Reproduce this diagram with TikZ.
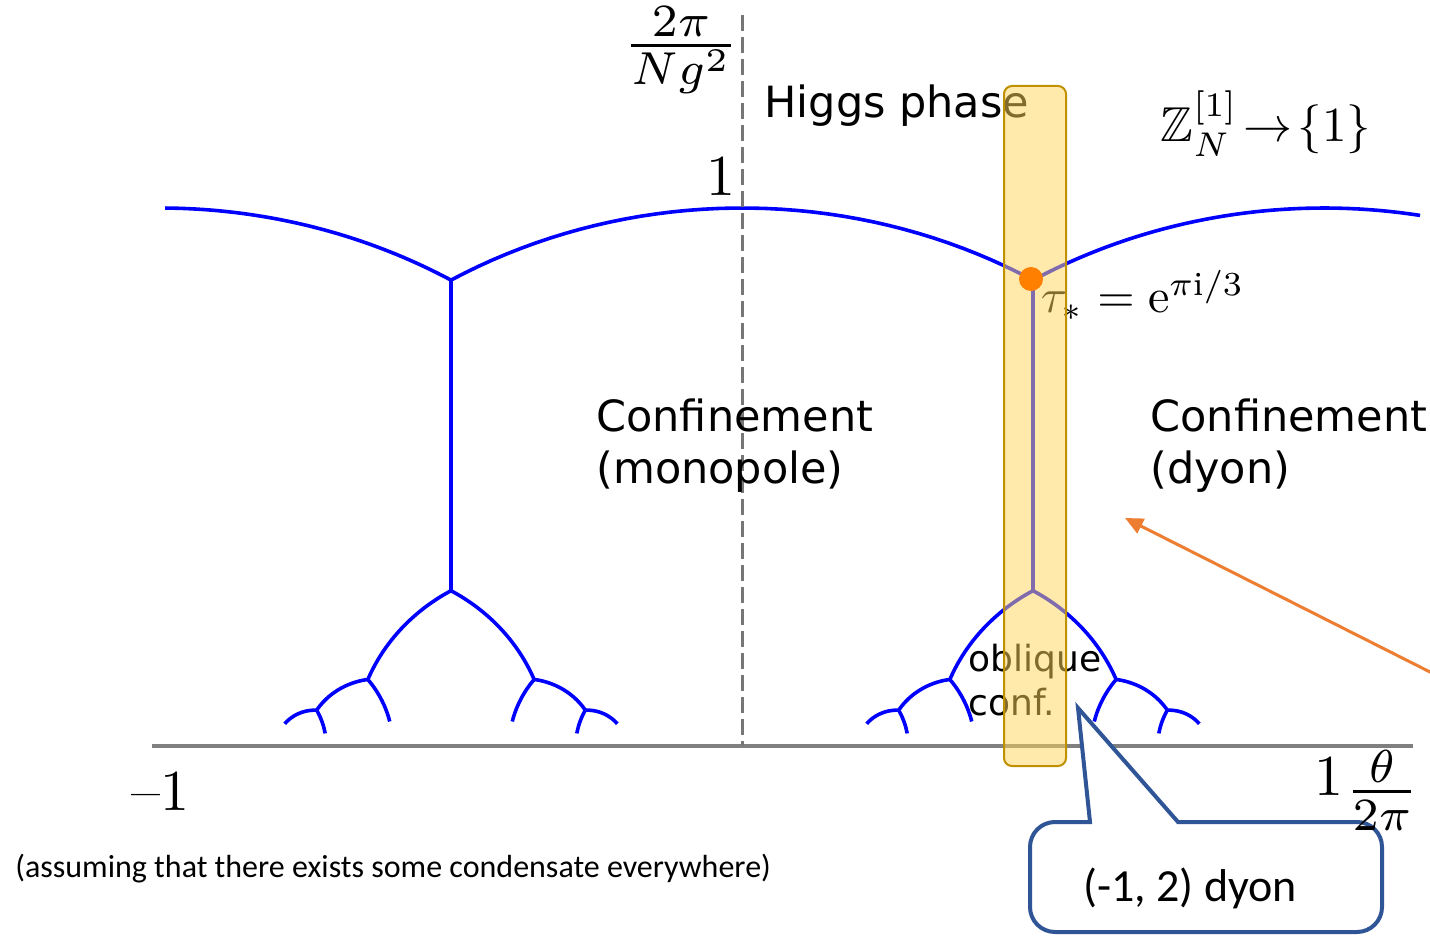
\documentclass[tikz,border=0pt]{standalone}
\usepackage{amsmath,amssymb}
\usepackage{fontspec}
\newfontfamily\dejavu{DejaVu Sans}
\newfontfamily\carlito{Carlito}
\usetikzlibrary{arrows.meta}
\definecolor{treeblue}{RGB}{0,0,255}
\definecolor{axisgray}{RGB}{128,128,128}
\definecolor{dashgray}{RGB}{118,118,118}
\definecolor{rectfill}{RGB}{255,214,90}
\definecolor{rectdraw}{RGB}{191,144,0}
\definecolor{dotorange}{RGB}{255,128,0}
\definecolor{arroworange}{RGB}{237,125,49}
\definecolor{calloutblue}{RGB}{47,85,151}
\newcommand\geoarc[4]{\draw[treeline] plot[domain=#3:#4,samples=40] ({#1+#2*cos(\x)},{#2*sin(\x)});}
\begin{document}
\begin{tikzpicture}[x=0.5pt,y=-0.5pt,
  treeline/.style={draw=treeblue,line width=1.8pt},
  mathlbl/.style={scale=2.9,transform shape,inner sep=0pt},
  fraclbl/.style={scale=3.3,transform shape,inner sep=0pt},
  smallmath/.style={scale=2.4,transform shape,inner sep=0pt},
  znlbl/.style={scale=2.45,transform shape,inner sep=0pt},
  sanslbl/.style={font=\dejavu\fontsize{21.5}{26}\selectfont,inner sep=0pt},
  obllbl/.style={font=\dejavu\fontsize{18}{22}\selectfont,inner sep=0pt},
  notelbl/.style={font=\carlito\fontsize{16}{19}\selectfont,inner sep=0pt},
  dyonlbl/.style={font=\carlito\fontsize{23}{28}\selectfont,inner sep=0pt},
  axisline/.style={draw=axisgray,line width=2pt},
  dashline/.style={draw=dashgray,line width=1.5pt,dash pattern=on 8pt off 3pt},
  highlight/.style={draw=rectdraw,fill=rectfill,fill opacity=0.5,line width=1pt,rounded corners=4pt},
  tauDot/.style={circle,fill=dotorange,minimum size=12pt,inner sep=0pt},
  pointer/.style={draw=arroworange,line width=1.5pt,-{Triangle[length=9pt,width=8pt]}},
  callout/.style={draw=calloutblue,fill=white,line width=2pt,line join=miter}
]
\useasboundingbox (0,0) rectangle (1430,936);
\fill[white] (0,0) rectangle (1430,936);

% phase boundaries
\begin{scope}[shift={(742,746)},x=291pt,y=269pt]
  \geoarc{-1}{1}{60}{89.5}
  \geoarc{0}{1}{60}{120}
  \geoarc{1}{1}{80.5}{120}
  \foreach \s in {-1,0}{
    \draw[treeline] (\s+0.5,0.28868) -- (\s+0.5,0.86603);
    \geoarc{\s+0.66667}{0.33333}{120}{158.21}
    \geoarc{\s+0.33333}{0.33333}{21.79}{60}
    \geoarc{\s+0.375}{0.125}{98.21}{147.80}
    \geoarc{\s+0.2}{0.2}{13.17}{38.21}
    \geoarc{\s+0.26667}{0.066667}{87.80}{141.79}
    \geoarc{\s+0.142857}{0.142857}{9.43}{27.79}
    \geoarc{\s+0.625}{0.125}{32.20}{81.79}
    \geoarc{\s+0.8}{0.2}{141.79}{166.83}
    \geoarc{\s+0.73333}{0.066667}{38.21}{92.20}
    \geoarc{\s+0.857143}{0.142857}{152.21}{170.57}
  }
\end{scope}

% axes
\coordinate (axL) at (152,746);
\coordinate (axR) at (1413,746);
\coordinate (vtop) at (742,15);
\coordinate (vbot) at (742,746);
\draw[axisline] (axL) -- (axR);
\draw[dashline] (vtop) -- (vbot);

% labels
\node[fraclbl, anchor=base] (ylabel) at (681,62) {$\frac{2\pi}{Ng^2}$};
\node[mathlbl, anchor=base east] (yone) at (737,196) {$1$};
\node[sanslbl, anchor=base west] (higgs) at (764,118) {Higgs phase};
\node[znlbl, anchor=base west] (zn) at (1160,142) {$\mathbb{Z}_N^{[1]}\mkern-3mu\to\mkern-3mu\{1\}$};
\node[smallmath, anchor=base west] (taustar) at (1040,313) {$\tau_* = \mathrm{e}^{\pi\mathrm{i}/3}$};
\node[sanslbl, anchor=base west] (conf1) at (596,431) {Confinement};
\node[sanslbl, anchor=base west] (mono) at (596,483) {(monopole)};
\node[sanslbl, anchor=base west] (conf2) at (1150,431) {Confinement};
\node[sanslbl, anchor=base west] (dyonphase) at (1150,483) {(dyon)};
\node[obllbl, anchor=base west] (obl) at (968,671) {oblique};
\node[obllbl, anchor=base west] (cnf) at (968,715) {conf.};
\node[mathlbl, anchor=base west] (xminus) at (130,810) {\textendash1};
\node[notelbl, anchor=base west] (note) at (15,877) {(assuming that there exists some condensate everywhere)};

% callout
\draw[callout] (1178,822) -- (1357,822) arc[start angle=90,end angle=0,radius=12.5pt]
  -- (1382,907) arc[start angle=0,end angle=-90,radius=12.5pt]
  -- (1055,932) arc[start angle=-90,end angle=-180,radius=12.5pt]
  -- (1030,847) arc[start angle=180,end angle=90,radius=12.5pt]
  -- (1090,822) -- (1078,708) -- cycle;
\node[dyonlbl] (dyon) at (1190,888) {(-1, 2) dyon};

\node[mathlbl, anchor=base west] (xone) at (1313,795) {$1$};
\node[fraclbl, anchor=base] (xlabel) at (1382,808) {$\frac{\theta}{2\pi}$};

% highlight strip
\draw[highlight] (1004,86) rectangle (1066,766);
\node[tauDot] (tau) at (1031,279) {};

% orange arrow
\coordinate (arrtail) at (1434,674);
\coordinate (arrtip) at (1125,518);
\draw[pointer] (arrtail) -- (arrtip);
\end{tikzpicture}
\end{document}
